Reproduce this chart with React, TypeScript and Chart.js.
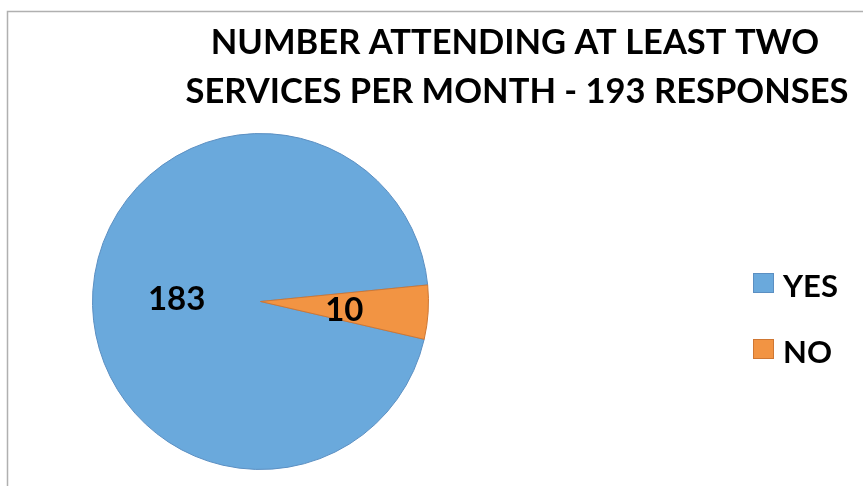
import React, { useEffect, useRef } from "react";
import { Chart, registerables } from "chart.js";

Chart.register(...registerables);

// ---- data ----
const categories: string[] = ["YES", "NO"];
const responses: number[] = [183, 10];
const titleLines: string[] = [
  "NUMBER ATTENDING AT LEAST TWO",
  "SERVICES PER MONTH - 193 RESPONSES",
];

// ---- styles ----
const sliceColors = ["#6aa9dc", "#f29443"];
const sliceBorders = ["#5b8fc2", "#cf7733"];
const FONT = "Lato, 'Open Sans', 'DejaVu Sans', sans-serif";

const decorPlugin = {
  id: "decor",
  beforeDraw(chart: any) {
    const ctx = chart.ctx as CanvasRenderingContext2D;
    ctx.save();
    ctx.strokeStyle = "#b0b0b0";
    ctx.lineWidth = 1.5;
    ctx.beginPath();
    ctx.moveTo(7.5, chart.height);
    ctx.lineTo(7.5, 11.5);
    ctx.lineTo(chart.width, 11.5);
    ctx.stroke();
    ctx.restore();
  },
  afterDraw(chart: any) {
    const ctx = chart.ctx as CanvasRenderingContext2D;
    ctx.save();
    // title
    ctx.fillStyle = "#000";
    ctx.font = `bold 34.5px ${FONT}`;
    ctx.textAlign = "center";
    ctx.textBaseline = "alphabetic";
    ctx.fillText(titleLines[0], 515, 54);
    ctx.fillText(titleLines[1], 517, 103);

    // data labels
    const meta = chart.getDatasetMeta(0);
    ctx.font = `bold 33px ${FONT}`;
    ctx.textBaseline = "middle";
    meta.data.forEach((arc: any, i: number) => {
      const { x, y, startAngle, endAngle, outerRadius } = arc.getProps(
        ["x", "y", "startAngle", "endAngle", "outerRadius"],
        true
      );
      const mid = (startAngle + endAngle) / 2;
      const d = outerRadius * 0.5;
      ctx.fillText(String(responses[i]), x + Math.cos(mid) * d, y + Math.sin(mid) * d + 3);
    });

    // legend
    ctx.font = `bold 31px ${FONT}`;
    ctx.textAlign = "left";
    ctx.textBaseline = "alphabetic";
    const legendY = [273, 339];
    categories.forEach((c, i) => {
      ctx.fillStyle = sliceColors[i];
      ctx.fillRect(753, legendY[i], 21, 20);
      ctx.strokeStyle = sliceBorders[i];
      ctx.lineWidth = 1;
      ctx.strokeRect(753.5, legendY[i] + 0.5, 20, 19);
      ctx.fillStyle = "#000";
      ctx.fillText(c, 783, legendY[i] + 24);
    });
    ctx.restore();
  },
};

export default function App() {
  const canvasRef = useRef<HTMLCanvasElement | null>(null);

  useEffect(() => {
    let chart: Chart | null = null;
    let cancelled = false;
    const make = () => {
      if (cancelled || !canvasRef.current) return;
      chart = new Chart(canvasRef.current, {
        type: "pie",
        data: {
          labels: categories,
          datasets: [
            {
              data: responses,
              backgroundColor: sliceColors,
              borderColor: sliceBorders,
              borderWidth: 1,
            },
          ],
        },
        options: {
          responsive: false,
          animation: false,
          rotation: 103,
          radius: 168,
          layout: { padding: { left: 92, right: 434, top: 133, bottom: 16 } },
          plugins: {
            legend: { display: false },
            title: { display: false },
            tooltip: { enabled: false },
          },
        },
        plugins: [decorPlugin],
      });
    };
    const fonts: any = (document as any).fonts;
    if (fonts && fonts.load) {
      Promise.all([fonts.load(`bold 35px Lato`)]).then(make, make);
    } else {
      make();
    }
    return () => {
      cancelled = true;
      if (chart) chart.destroy();
    };
  }, []);

  return (
    <div style={{ position: "fixed", left: 0, top: 0, width: 863, height: 486, background: "#fff" }}>
      <canvas ref={canvasRef} width={863} height={486} />
    </div>
  );
}
